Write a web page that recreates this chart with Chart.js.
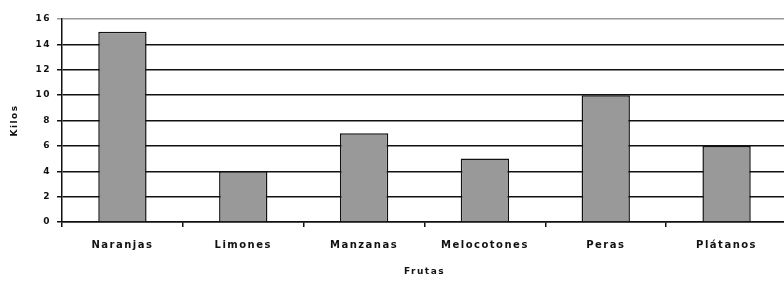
<!DOCTYPE html>
<html>
<head>
<meta charset="utf-8">
<script src="https://cdn.jsdelivr.net/npm/chart.js@4/dist/chart.umd.min.js"></script>
<style>
  html, body { margin: 0; padding: 0; background: #fff; overflow: hidden; }
  #wrap { width: 784px; height: 282px; overflow: hidden; }
</style>
</head>
<body>
<div id="wrap"><canvas id="chart" width="787" height="282"></canvas></div>
<script>
const categories = ['Naranjas', 'Limones', 'Manzanas', 'Melocotones', 'Peras', 'Plátanos'];
const kilos = [15, 4, 7, 5, 10, 6];
const yTicks = [0, 2, 4, 6, 8, 10, 12, 14, 16];

const fontFamily = '"DejaVu Sans", sans-serif';

// wide letter spacing like the old pixel font
const spacing = {
    id: 'spacing',
    beforeDraw(chart) {
        chart.ctx.letterSpacing = '1.5px';
    }
};

new Chart(document.getElementById('chart'), {
    type: 'bar',
    data: {
        labels: categories,
        datasets: [{
            label: 'Kilos',
            data: kilos,
            backgroundColor: '#999999',
            borderColor: '#111111',
            borderWidth: 1.5,
            categoryPercentage: 0.8,
            barPercentage: 0.5
        }]
    },
    options: {
        responsive: false,
        animation: false,
        devicePixelRatio: 1,
        layout: { padding: { top: 19, right: 0, bottom: 0, left: 0 } },
        plugins: {
            legend: { display: false },
            tooltip: { enabled: false }
        },
        scales: {
            x: {
                offset: true,
                afterFit: (s) => { s.height = 60; },
                border: { display: true, color: '#111', width: 1.5 },
                grid: { display: true, offset: true, drawOnChartArea: false, tickLength: 5, color: '#111', lineWidth: 1.5 },
                ticks: {
                    color: '#111',
                    font: { family: fontFamily, size: 10, weight: 'bold' },
                    padding: 12,
                    autoSkip: false,
                    maxRotation: 0
                },
                title: {
                    display: true,
                    text: 'Frutas',
                    color: '#111',
                    font: { family: fontFamily, size: 9, weight: 'bold' },
                    padding: { top: 0, bottom: 5 }
                }
            },
            y: {
                min: 0,
                max: 16,
                afterFit: (s) => { s.width = 62; },
                afterBuildTicks: (s) => { s.ticks = yTicks.map(v => ({ value: v })); },
                border: { display: true, color: '#111', width: 1.5 },
                grid: {
                    tickLength: 5,
                    lineWidth: 1.5,
                    color: (c) => c.tick && c.tick.value === 16 ? '#9a9a9a' : '#111'
                },
                ticks: {
                    color: '#111',
                    font: { family: fontFamily, size: 9, weight: 'bold' },
                    padding: 6
                },
                title: {
                    display: true,
                    text: 'Kilos',
                    color: '#111',
                    font: { family: fontFamily, size: 9, weight: 'bold' },
                    padding: { top: 9, bottom: 0 }
                }
            }
        }
    },
    plugins: [spacing]
});
</script>
</body>
</html>
